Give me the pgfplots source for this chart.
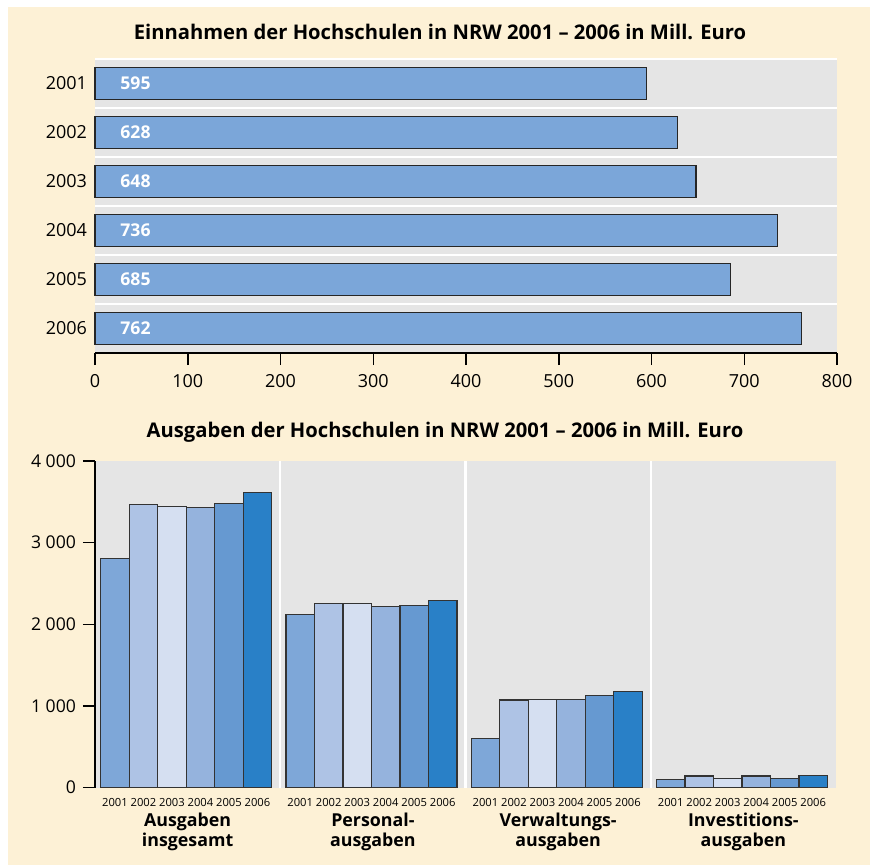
\documentclass[border=0pt]{standalone}
\usepackage{pgfplots}
\pgfplotsset{compat=1.18}
\usepackage{pgfplotstable}
\usepackage{fontspec}
\setmainfont{Open Sans}
\definecolor{cream}{HTML}{FDF1D6}
\definecolor{graybg}{HTML}{E5E5E5}
\definecolor{topbar}{HTML}{7BA6D9}
\definecolor{cA}{HTML}{7EA7D8}
\definecolor{cB}{HTML}{AEC3E5}
\definecolor{cC}{HTML}{D5DFF1}
\definecolor{cD}{HTML}{95B3DD}
\definecolor{cE}{HTML}{6699D1}
\definecolor{cF}{HTML}{2980C7}

\pgfplotstableread{
y v
6 595
5 628
4 648
3 736
2 685
1 762
}\einnahmen

\pgfplotstableread{
pos  a2001 a2002 a2003 a2004 a2005 a2006
3.2  2806  3464  3443  3431  3480  3614
9.7  2115  2255  2255  2213  2230  2291
16.2 596   1073  1077  1081  1130  1175
22.7 95    140   115   140   115   152
}\ausgaben

\begin{document}
\begin{tikzpicture}
\useasboundingbox (0,0) rectangle (435pt,-432.5pt);
\fill[white] (0,0) rectangle (435pt,-432.5pt);
\fill[cream] (4pt,-3.5pt) rectangle (435pt,-432.5pt);
\node[font=\fontsize{10.1}{12}\selectfont\bfseries, inner sep=0pt] at (220pt,-16pt) {Einnahmen der Hochschulen in NRW 2001 – 2006 in Mill. Euro};
\node[font=\fontsize{10.1}{12}\selectfont\bfseries, inner sep=0pt] at (222.5pt,-216pt) {Ausgaben der Hochschulen in NRW 2001 – 2006 in Mill. Euro};

\begin{axis}[
  at={(47.5pt,-176.5pt)}, anchor=south west,
  scale only axis, width=371pt, height=147pt,
  xmin=0, xmax=800, ymin=0.5, ymax=6.5,
  axis x line=bottom, axis y line=left,
  x axis line style={-, line width=0.75pt},
  y axis line style={draw=none},
  xtick={0,100,...,800}, xtick align=outside,
  xtick style={black, line width=0.75pt}, major tick length=6pt,
  ytick={1,...,6}, yticklabels={2006,2005,2004,2003,2002,2001},
  ytick style={draw=none},
  minor ytick={1.5,2.5,3.5,4.5,5.5,6.5},
  yminorgrids, minor grid style={white, line width=1.2pt}, minor tick length=0pt,
  axis background/.style={fill=graybg},
  tick label style={font=\fontsize{9}{11}\selectfont},
  xticklabel style={yshift=-1pt},
  yticklabel style={xshift=2.5pt},
  /pgf/number format/assume math mode=true,
  clip=false,
]
\addplot[xbar, bar width=0.667, fill=topbar, draw=black!85, line width=0.6pt] table[x=v, y=y]{\einnahmen};
\addplot[only marks, mark=none, nodes near coords, point meta=explicit symbolic,
  nodes near coords align={horizontal},
  every node near coord/.append style={anchor=west, inner sep=0pt, xshift=12.5pt, text=white, font=\fontsize{8.8}{10}\selectfont\bfseries}]
  table[x expr=0, y=y, meta=v]{\einnahmen};
\end{axis}

\begin{axis}[
  at={(47.5pt,-393.75pt)}, anchor=south west,
  scale only axis, width=370.5pt, height=163.25pt,
  xmin=0, xmax=26, ymin=0, ymax=4000,
  ybar=0pt, bar width=1,
  axis background/.style={fill=graybg},
  axis y line=left, y axis line style={-, line width=0.75pt},
  axis x line=bottom, x axis line style={draw=none},
  ytick={0,1000,2000,3000,4000}, yticklabels={0,1~000,2~000,3~000,4~000},
  ytick align=outside, ytick style={black, line width=0.75pt}, major tick length=6pt,
  yticklabel style={font=\fontsize{8.8}{10}\selectfont},
  xtick={0.7,1.7,2.7,3.7,4.7,5.7, 7.2,8.2,9.2,10.2,11.2,12.2, 13.7,14.7,15.7,16.7,17.7,18.7, 20.2,21.2,22.2,23.2,24.2,25.2},
  xticklabels={2001,2002,2003,2004,2005,2006,2001,2002,2003,2004,2005,2006,2001,2002,2003,2004,2005,2006,2001,2002,2003,2004,2005,2006},
  xtick style={draw=none},
  xticklabel style={font=\fontsize{5.6}{6}\selectfont, yshift=1pt},
  extra x ticks={6.5,13,19.5}, extra x tick labels={},
  extra x tick style={xmajorgrids=true, major grid style={white, line width=1.2pt}, tick style={draw=none}},
  clip=false,
]
\addplot[fill=cA, draw=black!80, line width=0.6pt] table[x=pos, y=a2001]{\ausgaben};
\addplot[fill=cB, draw=black!80, line width=0.6pt] table[x=pos, y=a2002]{\ausgaben};
\addplot[fill=cC, draw=black!80, line width=0.6pt] table[x=pos, y=a2003]{\ausgaben};
\addplot[fill=cD, draw=black!80, line width=0.6pt] table[x=pos, y=a2004]{\ausgaben};
\addplot[fill=cE, draw=black!80, line width=0.6pt] table[x=pos, y=a2005]{\ausgaben};
\addplot[fill=cF, draw=black!80, line width=0.6pt] table[x=pos, y=a2006]{\ausgaben};
\foreach \c/\t in {3.25/{Ausgaben\\insgesamt}, 9.75/{Personal-\\ausgaben}, 16.25/{Verwaltungs-\\ausgaben}, 22.75/{Investitions-\\ausgaben}}{
  \edef\temp{\noexpand\node[anchor=north, align=center, inner sep=0pt, yshift=-12.5pt, font=\noexpand\fontsize{8.9}{10}\noexpand\selectfont\noexpand\bfseries] at (axis cs:\c,0) {\unexpanded\expandafter{\t}};}
  \temp
}
\end{axis}
\end{tikzpicture}
\end{document}
